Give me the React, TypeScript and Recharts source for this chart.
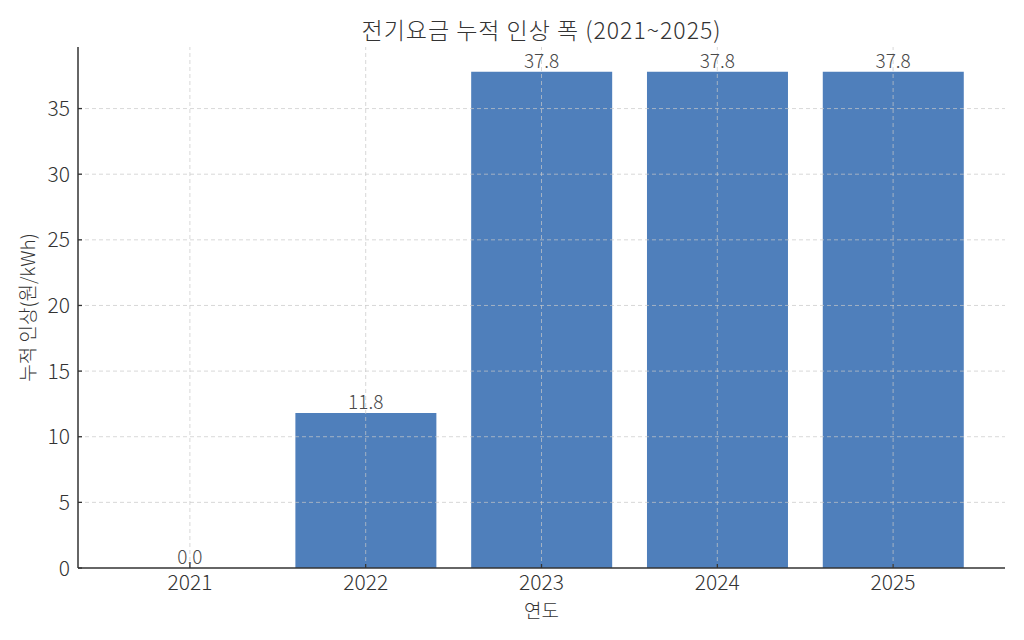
import {
  Bar,
  BarChart,
  ReferenceDot,
  ReferenceLine,
  XAxis,
  YAxis,
} from "recharts";

const YEARS = ["2021", "2022", "2023", "2024", "2025"];
const INCREASE = [0.0, 11.8, 37.8, 37.8, 37.8];
const Y_TICKS = [0, 5, 10, 15, 20, 25, 30, 35];

const FONT = '"Noto Sans CJK KR", "Noto Sans", sans-serif';
const TEXT = "#333";
const BAR_COLOR = "#4f7fbb";
const GRID = "rgba(200,200,200,0.7)";

const data = YEARS.map((year, i) => ({ year, value: INCREASE[i] }));

// matplotlib-style ticks: short mark pointing into the plot
function XTick({ x, y, payload }: any) {
  return (
    <g>
      <line x1={x} x2={x} y1={y - 7} y2={y - 11} stroke="#333" strokeWidth={1.3} />
      <text
        x={x}
        y={y}
        dy="0.71em"
        textAnchor="middle"
        fill={TEXT}
        fontSize={21}
        fontWeight={300}
        fontFamily={FONT}
      >
        {payload.value}
      </text>
    </g>
  );
}

function YTick({ x, y, payload }: any) {
  return (
    <g>
      <line x1={x + 8} x2={x + 12} y1={y} y2={y} stroke="#333" strokeWidth={1.3} />
      <text
        x={x}
        y={y}
        dy="0.36em"
        textAnchor="end"
        fill={TEXT}
        fontSize={21}
        fontWeight={300}
        fontFamily={FONT}
      >
        {payload.value}
      </text>
    </g>
  );
}

function App() {
  return (
    <div
      style={{
        position: "absolute",
        left: 0,
        top: 0,
        width: 1024,
        height: 640,
        background: "#fff",
        fontFamily: FONT,
      }}
    >
      <div
        style={{
          position: "absolute",
          top: 13,
          left: 78,
          width: 927,
          textAlign: "center",
          fontSize: 23,
          fontWeight: 300,
          letterSpacing: 1,
          lineHeight: "32px",
          color: TEXT,
        }}
      >
        전기요금 누적 인상 폭 (2021~2025)
      </div>
      <BarChart
        width={1024}
        height={640}
        data={data}
        margin={{ top: 47, right: 19, bottom: 42, left: 28 }}
        barCategoryGap="10%"
      >
        <XAxis
          dataKey="year"
          height={30}
          padding={{ left: 24, right: 24 }}
          tickLine={false}
          tickSize={6}
          tickMargin={1}
          axisLine={{ stroke: "#333", strokeWidth: 1.5 }}
          tick={<XTick />}
          label={{
            value: "연도",
            position: "insideBottom",
            offset: -20,
            fill: TEXT,
            fontSize: 19,
            fontWeight: 300,
            fontFamily: FONT,
          }}
        />
        <YAxis
          width={50}
          domain={[0, 39.69]}
          ticks={Y_TICKS}
          tickLine={false}
          tickSize={6}
          tickMargin={2}
          axisLine={{ stroke: "#333", strokeWidth: 1.5 }}
          tick={<YTick />}
          label={{
            value: "누적 인상(원/kWh)",
            angle: -90,
            position: "insideLeft",
            offset: 0,
            style: { textAnchor: "middle" },
            fill: TEXT,
            fontSize: 19,
            fontWeight: 300,
            fontFamily: FONT,
          }}
        />
        <Bar dataKey="value" fill={BAR_COLOR} isAnimationActive={false} />
        {Y_TICKS.filter((t) => t > 0).map((t) => (
          <ReferenceLine
            key={`h-${t}`}
            y={t}
            stroke={GRID}
            strokeDasharray="4 3"
          />
        ))}
        {YEARS.map((y) => (
          <ReferenceLine
            key={`v-${y}`}
            x={y}
            stroke={GRID}
            strokeDasharray="4 3"
          />
        ))}
        {data.map((d) => (
          <ReferenceDot
            key={d.year}
            x={d.year}
            y={d.value}
            r={0}
            fill="none"
            stroke="none"
            label={{
              value: d.value.toFixed(1),
              position: "top",
              offset: 4,
              fill: "#4a4a4a",
              fontSize: 19,
              fontWeight: 300,
              fontFamily: FONT,
            }}
          />
        ))}
      </BarChart>
    </div>
  );
}

export default App;
